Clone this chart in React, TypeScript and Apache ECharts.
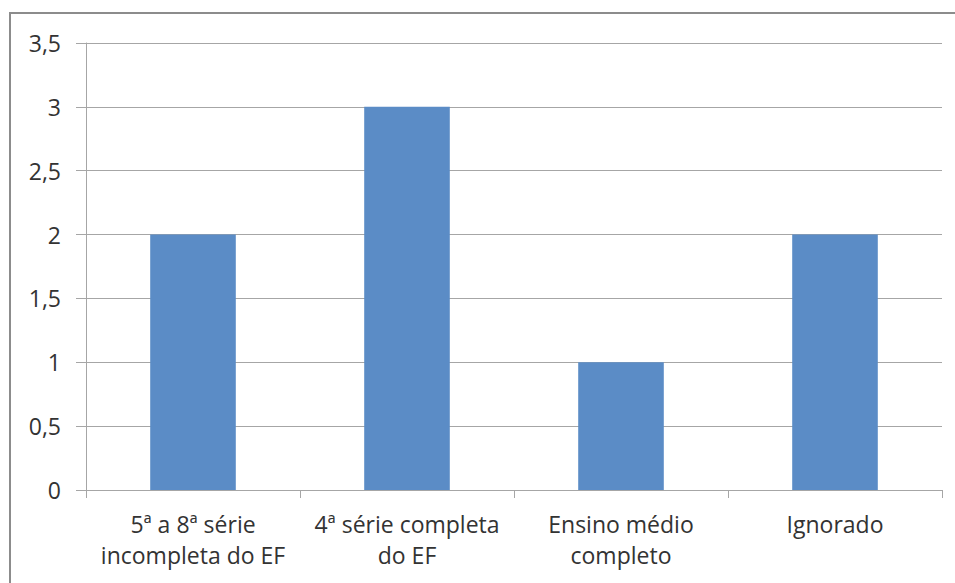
import React, { useEffect, useRef } from "react";
import * as echarts from "echarts";

const categories = [
  "5ª a 8ª série\nincompleta do EF",
  "4ª série completa\ndo EF",
  "Ensino médio\ncompleto",
  "Ignorado",
];
const values = [2, 3, 1, 2];
const yMin = 0;
const yMax = 3.5;
const yStep = 0.5;

const FONT = "Open Sans";
const TEXT = "#333333";
const GRID = "#A6A6A6";
const BAR = "#5B8CC6";

export default function App() {
  const ref = useRef<HTMLDivElement>(null);

  useEffect(() => {
    if (!ref.current) return;
    const chart = echarts.init(ref.current, undefined, { renderer: "svg" });
    chart.setOption({
      animation: false,
      backgroundColor: "#ffffff",
      graphic: [
        {
          type: "rect",
          shape: { x: 10, y: 13, width: 960, height: 600 },
          style: { fill: "none", stroke: "#8C8C8C", lineWidth: 2 },
          silent: true,
        },
      ],
      grid: { left: 86, right: 13, top: 43, bottom: 93, containLabel: false },
      xAxis: {
        type: "category",
        data: categories,
        axisLine: { lineStyle: { color: GRID, width: 1 } },
        axisTick: { show: true, length: 8, lineStyle: { color: GRID } },
        axisLabel: {
          color: TEXT,
          fontFamily: FONT,
          fontSize: 23,
          lineHeight: 31,
          margin: 18,
          interval: 0,
        },
      },
      yAxis: {
        type: "value",
        min: yMin,
        max: yMax,
        interval: yStep,
        axisLine: { show: true, lineStyle: { color: GRID, width: 1 } },
        axisTick: { show: true, length: 10, lineStyle: { color: GRID } },
        splitLine: { show: true, lineStyle: { color: GRID, width: 1 } },
        axisLabel: {
          color: TEXT,
          fontFamily: FONT,
          fontSize: 23,
          margin: 25,
          formatter: (v: number) => String(v).replace(".", ","),
        },
      },
      series: [
        {
          type: "bar",
          data: values,
          barCategoryGap: "60%",
          itemStyle: { color: BAR },
        },
      ],
    });
    return () => chart.dispose();
  }, []);

  return (
    <div
      ref={ref}
      style={{ position: "fixed", left: 0, top: 0, width: 955, height: 583 }}
    />
  );
}
